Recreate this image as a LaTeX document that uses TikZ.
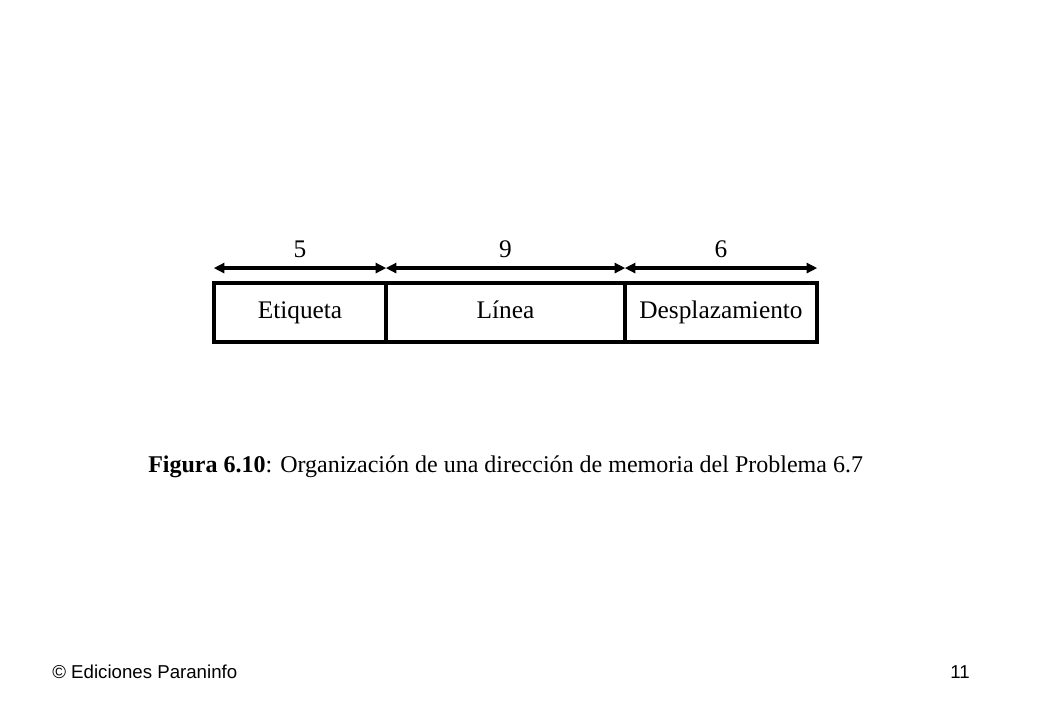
\documentclass[tikz,border=0pt]{standalone}
\usepackage{fontspec}
\usetikzlibrary{arrows.meta}
\setmainfont{Liberation Serif}
\newfontfamily\footfont{Liberation Sans}
\begin{document}
\begin{tikzpicture}[x=0.75pt, y=-0.75pt,
    field/.style={draw, line width=2.4pt, minimum height=44.25pt, inner sep=0pt, text height=12.5pt, text depth=4pt, font=\fontsize{19}{21}\selectfont},
    widtharrow/.style={{Triangle[length=8pt, width=7.5pt]}-{Triangle[length=8pt, width=7.5pt]}, line width=2.4pt, shorten <=1pt, shorten >=1pt},
    bits/.style={font=\fontsize{19}{20}\selectfont}]
    \useasboundingbox (0, 0) rectangle (1040, 720);
    \node[field, minimum width=129pt] (etq) at (300, 312.5) {Etiqueta};
    \node[field, minimum width=179.25pt] (lin) at (505.5, 312.5) {L\'inea};
    \node[field, minimum width=144pt] (desp) at (721, 312.5) {Desplazamiento};
    \draw[widtharrow] ([yshift=10pt]etq.north west) -- node[bits, above=3pt] (b5) {5} ([yshift=10pt]etq.north east);
    \draw[widtharrow] ([yshift=10pt]lin.north west) -- node[bits, above=3pt] (b9) {9} ([yshift=10pt]lin.north east);
    \draw[widtharrow] ([yshift=10pt]desp.north west) -- node[bits, above=3pt] (b6) {6} ([yshift=10pt]desp.north east);
    \node[anchor=west, inner sep=0pt, font=\fontsize{18}{20}\selectfont] (caption) at (148, 467) {\textbf{Figura 6.10}: Organizaci\'on de una direcci\'on de memoria del Problema 6.7};
    \node[anchor=west, inner sep=0pt, font=\footfont\fontsize{14}{16}\selectfont] (pub) at (52, 672) {\textcopyright{} Ediciones Paraninfo};
    \node[anchor=east, inner sep=0pt, font=\footfont\fontsize{14}{16}\selectfont] (page) at (970, 672) {11};
\end{tikzpicture}
\end{document}
